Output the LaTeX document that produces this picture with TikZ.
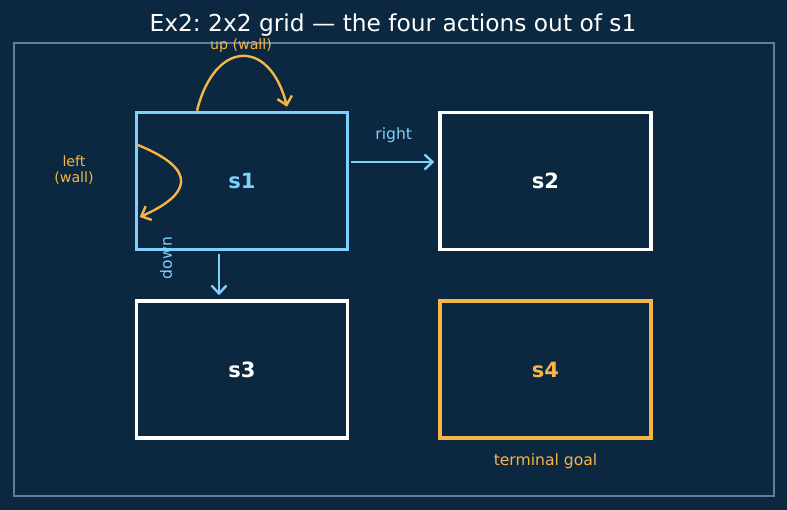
\documentclass[tikz,border=0pt]{standalone}
\usepackage{fontspec}
\setmainfont{DejaVu Sans}
\usetikzlibrary{positioning,arrows.meta}
\definecolor{bgnavy}{HTML}{0B2840}
\definecolor{framegrey}{HTML}{5F7F99}
\definecolor{skyblue}{HTML}{7FD0FA}
\definecolor{amber}{HTML}{F5B547}
\frenchspacing

\begin{document}
\begin{tikzpicture}[
        x=1pt, y=-1pt,
        every node/.style={font=\fontsize{15.6}{18}\selectfont},
        cell/.style={rectangle, draw=white, line width=3.5pt, minimum width=211pt, minimum height=137pt, inner sep=0pt,
            font=\fontsize{21}{24}\selectfont\bfseries, text=white},
        start/.style={cell, draw=skyblue, text=skyblue},
        goal/.style={cell, draw=amber, text=amber},
        arrow/.style={-{Straight Barb[length=8pt,width=15pt]}, line width=2.4pt, skyblue},
        wallarrow/.style={arrow, amber},
        small/.style={font=\fontsize{14.2}{16.5}\selectfont, text=amber}
    ]
    % background and frame
    \fill[bgnavy] (0,0) rectangle (787,510);
    \useasboundingbox (0,0) rectangle (787,510);
    \draw[framegrey, line width=1.5pt] (14,43) rectangle (774,496);
    \node[font=\fontsize{23.3}{27}\selectfont, text=white] (title) at (393,25) {Ex2: 2x2 grid — the four actions out of s1};

    % the four cells
    \node[start] (s1) at (242,181) {s1};
    \node[cell] (s2) at (545.5,181) {s2};
    \node[cell] (s3) at (242,369.5) {s3};
    \node[goal] (s4) at (545.5,369.5) {s4};
    \node[below=10pt of s4, text=amber] (goallbl) {terminal goal};

    % moves out of s1
    \draw[arrow, shorten <=2pt, shorten >=4pt] ([yshift=19pt]s1.east) -- node[above=15pt, text=skyblue] {right} ([yshift=19pt]s2.west);
    \draw[arrow, shorten <=3pt, shorten >=4pt] ([xshift=-23pt]s1.south) -- ([xshift=-23pt]s3.north);
    \node[rotate=90, text=skyblue] (downlbl) at (166,258) {down};

    % bumping into the walls
    \draw[wallarrow] ([xshift=-45pt]s1.north) .. controls +(18,-72) and +(-17,-68) .. ([xshift=45pt,yshift=4pt]s1.north);
    \node[small] (uplbl) at (241,46) {up (wall)};
    \draw[wallarrow] ([xshift=3pt,yshift=36pt]s1.west) .. controls +(62,25) and +(50,-22) .. ([xshift=5pt,yshift=-36pt]s1.west);
    \node[small, align=center] (leftlbl) at (74,170) {left\\(wall)};
\end{tikzpicture}
\end{document}
